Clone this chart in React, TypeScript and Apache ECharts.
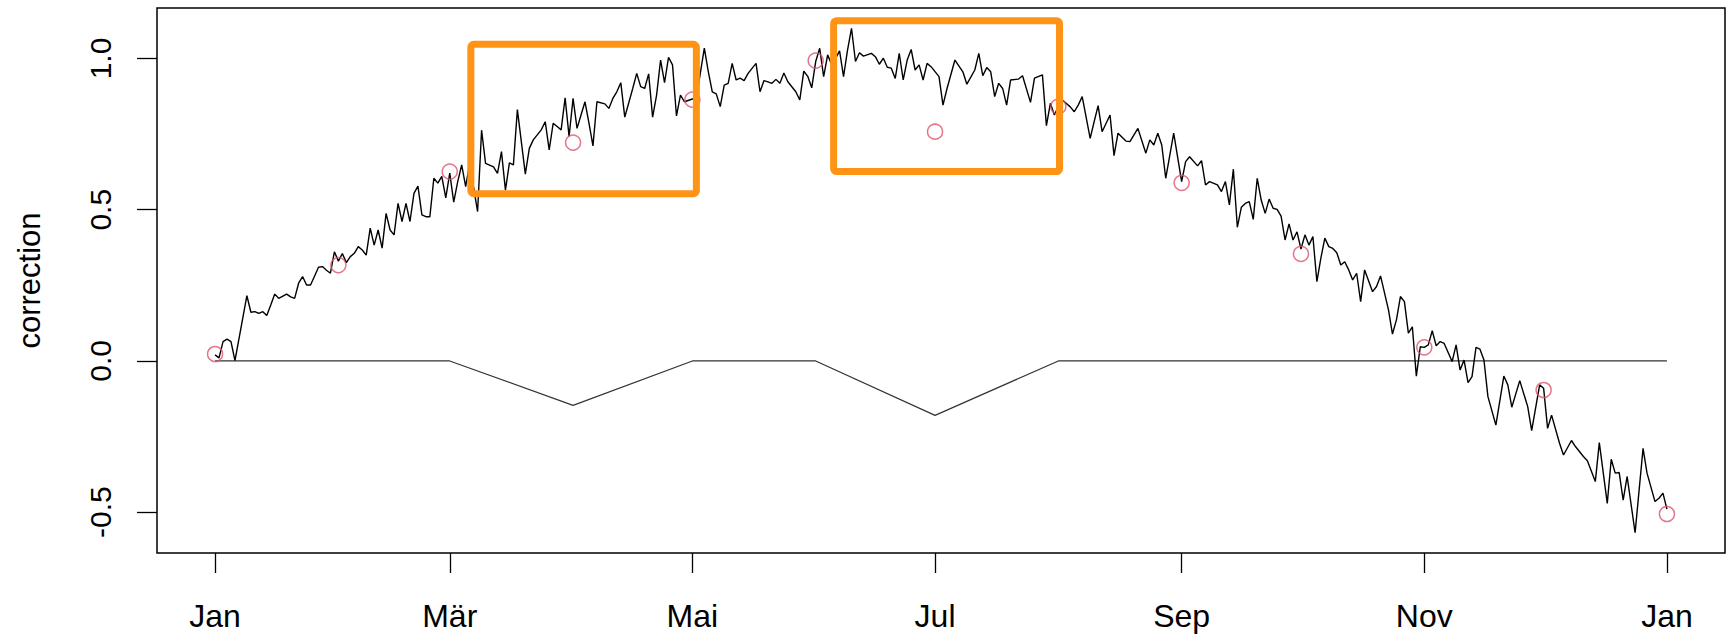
import React, { useEffect, useRef } from "react";
import * as echarts from "echarts";

// Daily correction trace: day of year (0 = 1 Jan) and value
const traceDays = [
  0, 1, 2, 3, 4, 5, 8, 9, 10, 11, 12, 13, 14, 15, 16, 18, 19, 20, 21, 22, 23, 24, 25, 26, 27, 28, 29,
  30, 31, 32, 33, 34, 35, 36, 37, 38, 39, 40, 41, 42, 43, 44, 45, 46, 47, 48, 49, 50, 51, 52, 53, 54,
  55, 56, 57, 58, 59, 60, 61, 62, 63, 64, 66, 67, 68, 70, 71, 72, 73, 74, 75, 76, 78, 79, 80, 82, 83,
  84, 85, 86, 87, 88, 89, 90, 91, 92, 93, 94, 95, 96, 98, 99, 100, 101, 102, 103, 105, 106, 107, 108,
  109, 110, 111, 112, 113, 114, 115, 116, 117, 118, 120, 121, 123, 124, 125, 126, 127, 128, 129, 130,
  131, 132, 133, 134, 136, 137, 138, 139, 140, 141, 142, 143, 144, 146, 147, 148, 149, 150, 151, 152,
  153, 154, 155, 156, 157, 158, 159, 160, 161, 162, 163, 165, 166, 167, 168, 169, 170, 171, 172, 173,
  174, 175, 176, 177, 178, 179, 180, 182, 183, 184, 186, 188, 189, 191, 192, 193, 194, 195, 196, 197,
  198, 199, 200, 202, 203, 205, 206, 208, 209, 210, 211, 212, 213, 215, 216, 217, 218, 220, 221, 222,
  223, 225, 226, 227, 229, 230, 232, 234, 235, 236, 237, 238, 239, 241, 243, 244, 245, 247, 248, 249,
  250, 252, 253, 254, 255, 256, 257, 258, 259, 260, 261, 262, 263, 264, 265, 266, 267, 268, 269, 270,
  271, 272, 273, 274, 275, 276, 277, 278, 279, 280, 281, 282, 283, 284, 285, 286, 287, 288, 289, 291,
  292, 293, 295, 296, 297, 298, 299, 300, 301, 302, 303, 304, 305, 306, 307, 308, 309, 311, 312, 313,
  314, 315, 316, 317, 318, 319, 320, 322, 324, 325, 326, 328, 330, 331, 333, 334, 335, 336, 338, 339,
  341, 342, 344, 345, 347, 348, 350, 351, 352, 353, 354, 355, 357, 359, 360, 362, 363, 364, 365,
];
const traceValues = [
  0.02, 0.01, 0.064, 0.072, 0.064, 0.001, 0.216, 0.161, 0.163, 0.157, 0.163, 0.15, 0.185, 0.221, 0.207,
  0.221, 0.212, 0.207, 0.257, 0.279, 0.251, 0.251, 0.28, 0.31, 0.312, 0.3, 0.29,
  0.361, 0.33, 0.355, 0.325, 0.345, 0.356, 0.378, 0.367, 0.35, 0.439, 0.383, 0.433, 0.373, 0.488, 0.433,
  0.417, 0.521, 0.461, 0.521, 0.461, 0.554, 0.578, 0.483, 0.477, 0.477,
  0.604, 0.588, 0.61, 0.539, 0.621, 0.525, 0.593, 0.648, 0.576, 0.653, 0.494, 0.763, 0.653, 0.642, 0.62,
  0.692, 0.565, 0.655, 0.648, 0.831, 0.618, 0.703, 0.731, 0.764, 0.791,
  0.698, 0.786, 0.775, 0.764, 0.87, 0.742, 0.868, 0.769, 0.813, 0.857, 0.786, 0.711, 0.857, 0.85, 0.835,
  0.868, 0.89, 0.92, 0.806, 0.901, 0.951, 0.907, 0.901,
  0.949, 0.806, 0.879, 0.995, 0.92, 1.004, 0.979, 0.81, 0.879, 0.857, 0.866, 0.87, 1.034, 0.957, 0.89,
  0.883, 0.841, 0.912, 0.918, 0.984,
  0.929, 0.935, 0.927, 0.951, 0.984, 0.89, 0.927, 0.923, 0.918, 0.931, 0.918, 0.952, 0.923, 0.89, 0.863,
  0.958, 0.941, 0.903, 0.99, 1.034,
  0.94, 1.012, 0.98, 1.0, 1.025, 0.94, 1.028, 1.1, 0.99, 1.019, 1.008, 1.017, 1.006, 0.981, 1.001, 0.971,
  0.968, 0.934, 1.017, 0.929,
  0.995, 1.03, 0.962, 0.979, 0.929, 0.984, 0.973, 0.94, 0.846, 0.9, 0.995, 0.956, 0.915, 0.962, 1.017,
  0.943, 0.97, 0.956, 0.874, 0.918,
  0.901, 0.846, 0.929, 0.932, 0.943, 0.855, 0.935, 0.946, 0.778, 0.852, 0.813, 0.841, 0.863, 0.84, 0.824,
  0.846, 0.874, 0.736, 0.791, 0.844,
  0.758, 0.813, 0.679, 0.753, 0.727, 0.725, 0.769, 0.687, 0.731, 0.714, 0.753, 0.714, 0.604, 0.753, 0.593,
  0.659, 0.675, 0.645, 0.662, 0.582,
  0.593, 0.582, 0.56, 0.593, 0.516, 0.634, 0.442, 0.508, 0.521, 0.527, 0.468, 0.604, 0.532, 0.488, 0.535,
  0.505, 0.501, 0.479, 0.4, 0.453,
  0.4, 0.427, 0.37, 0.417, 0.383, 0.411, 0.262, 0.34, 0.406, 0.378, 0.372, 0.358, 0.317, 0.328, 0.301,
  0.268, 0.29, 0.196, 0.301, 0.229,
  0.246, 0.281, 0.169, 0.089, 0.136, 0.213, 0.196, 0.092, 0.113, -0.05, 0.047, 0.045, 0.053, 0.1, 0.05,
  0.064, 0.058, -0.002, 0.053, -0.03,
  0.003, -0.072, -0.052, 0.045, 0.039, 0.003, -0.118, -0.212, -0.05, -0.079, -0.153, -0.065, -0.151,
  -0.23, -0.079, -0.09, -0.223, -0.179, -0.272, -0.311,
  -0.263, -0.283, -0.316, -0.33, -0.399, -0.27, -0.471, -0.325, -0.371, -0.369, -0.46, -0.382, -0.568,
  -0.289, -0.371, -0.465, -0.454, -0.437, -0.49,
];

// Values on the first day of each month
const monthDays = [0, 31, 59, 90, 120, 151, 181, 212, 243, 273, 304, 334, 365];
const monthValues = [0.023, 0.317, 0.626, 0.722, 0.864, 0.993, 0.758, 0.841, 0.589, 0.354, 0.045, -0.096, -0.506];

// Piecewise correction curve
const corrDays = [0, 59, 90, 120, 151, 181, 212, 365];
const corrValues = [0, 0, -0.147, 0, 0, -0.18, 0, 0];

// Axis ticks
const xTickDays = [0, 59, 120, 181, 243, 304, 365];
const xTickLabels = ["Jan", "Mär", "Mai", "Jul", "Sep", "Nov", "Jan"];
const yTicks = [-0.5, 0, 0.5, 1.0];

// Highlighted spans: [startDay, endDay, low, high]
const highlightBoxes = [
  [64.3, 121.0, 0.553, 1.047],
  [155.5, 212.3, 0.626, 1.125],
];

const FONT = "'Liberation Sans', Arial, Helvetica, sans-serif";

export default function App() {
  const ref = useRef<HTMLDivElement>(null);

  useEffect(() => {
    const chart = echarts.init(ref.current!, null, { renderer: "svg" });
    chart.setOption({
      animation: false,
      backgroundColor: "#ffffff",
      grid: {
        left: 157,
        top: 8,
        width: 1568,
        height: 545,
        show: true,
        borderColor: "#000",
        borderWidth: 1.5,
        backgroundColor: "transparent",
        outerBoundsMode: "none",
      },
      xAxis: {
        type: "value",
        min: -14.6,
        max: 379.6,
        splitLine: { show: false },
        axisLine: { show: false, onZero: false },
        axisTick: {
          show: true,
          customValues: xTickDays,
          length: 20,
          lineStyle: { color: "#000", width: 1.3 },
        },
        axisLabel: {
          customValues: xTickDays,
          formatter: (v: number) => xTickLabels[xTickDays.indexOf(v)] ?? "",
          fontSize: 32,
          color: "#000",
          fontFamily: FONT,
          margin: 47,
        },
      },
      yAxis: {
        type: "value",
        min: -0.635,
        max: 1.167,
        splitLine: { show: false },
        axisLine: { show: false, onZero: false },
        axisTick: {
          show: true,
          customValues: yTicks,
          length: 20,
          lineStyle: { color: "#000", width: 1.3 },
        },
        axisLabel: {
          customValues: yTicks,
          rotate: 90,
          formatter: (v: number) => v.toFixed(1),
          fontSize: 30,
          color: "#000",
          fontFamily: FONT,
          margin: 42,
        },
        name: "correction",
        nameLocation: "middle",
        nameRotate: 90,
        nameGap: 112,
        nameTextStyle: { fontSize: 31, color: "#000", fontFamily: FONT },
      },
      series: [
        {
          type: "line",
          data: corrDays.map((d, i) => [d, corrValues[i]]),
          showSymbol: false,
          lineStyle: { color: "#333", width: 1.2 },
          z: 2,
        },
        {
          type: "line",
          data: traceDays.map((d, i) => [d, traceValues[i]]),
          showSymbol: false,
          lineStyle: { color: "#000", width: 1.4 },
          z: 3,
        },
        {
          type: "scatter",
          data: monthDays.map((d, i) => [d, monthValues[i]]),
          symbol: "circle",
          symbolSize: 15,
          itemStyle: { color: "transparent", borderColor: "#DF536B", borderWidth: 1.5 },
          z: 4,
        },
      ],
    });

    const rects = highlightBoxes.map(([d0, d1, lo, hi]) => {
      const p0 = chart.convertToPixel({ gridIndex: 0 }, [d0, hi]) as number[];
      const p1 = chart.convertToPixel({ gridIndex: 0 }, [d1, lo]) as number[];
      return {
        type: "rect",
        shape: { x: p0[0], y: p0[1], width: p1[0] - p0[0], height: p1[1] - p0[1], r: 3 },
        style: { fill: "none", stroke: "#FF9315", lineWidth: 7 },
        z: 100,
      };
    });
    chart.setOption({ graphic: rects });

    return () => chart.dispose();
  }, []);

  return (
    <div
      ref={ref}
      style={{ position: "absolute", left: 0, top: 0, width: 1732, height: 638 }}
    />
  );
}
